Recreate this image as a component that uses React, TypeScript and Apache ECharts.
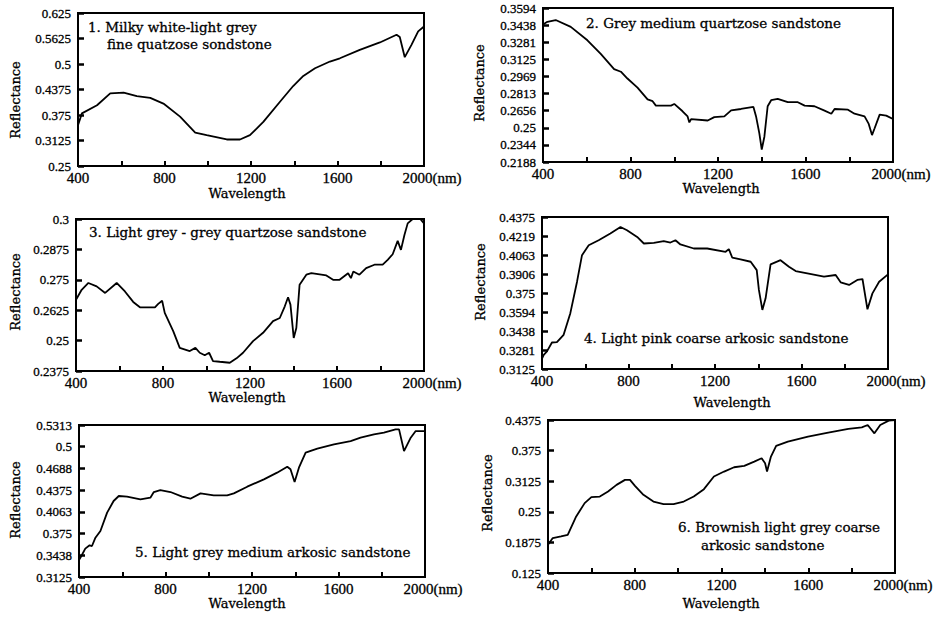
import React, { useEffect, useRef } from "react";
import * as echarts from "echarts";

// ---- tick labels ----
const X_TICKS = ["400", "800", "1200", "1600", "2000"];
const Y_TICKS_1 = ["0.25", "0.3125", "0.375", "0.4375", "0.5", "0.5625", "0.625"];
const Y_TICKS_2 = ["0.2188", "0.2344", "0.25", "0.2656", "0.2813", "0.2969", "0.3125", "0.3281", "0.3438", "0.3594"];
const Y_TICKS_3 = ["0.2375", "0.25", "0.2625", "0.275", "0.2875", "0.3"];
const Y_TICKS_4 = ["0.3125", "0.3281", "0.3438", "0.3594", "0.375", "0.3906", "0.4063", "0.4219", "0.4375"];
const Y_TICKS_5 = ["0.3125", "0.3438", "0.375", "0.4063", "0.4375", "0.4688", "0.5", "0.5313"];
const Y_TICKS_6 = ["0.125", "0.1875", "0.25", "0.3125", "0.375", "0.4375"];

// ---- titles ----
const TITLES = [
  ["1. Milky white-light grey", "fine quatzose sondstone"],
  ["2. Grey medium quartzose sandstone"],
  ["3. Light grey - grey quartzose sandstone"],
  ["4. Light pink coarse arkosic sandstone"],
  ["5. Light grey medium arkosic sandstone"],
  ["6. Brownish light grey coarse", "arkosic sandstone"],
];

// ---- series: wavelength (nm) and reflectance ----
const WL_1 = [400, 418, 488, 549, 611, 672, 734, 795, 872, 942, 995, 1088, 1149, 1195, 1257, 1334, 1395, 1442, 1496, 1565, 1611, 1703, 1796, 1873, 1888, 1911, 1942, 1973, 2000];
const R_1 = [0.35, 0.379, 0.399, 0.428, 0.43, 0.4215, 0.417, 0.403, 0.371, 0.332, 0.3255, 0.315, 0.315, 0.3255, 0.358, 0.4075, 0.446, 0.4707, 0.4896, 0.506, 0.514, 0.5347, 0.5528, 0.5717, 0.566, 0.5167, 0.547, 0.5799, 0.592];

const WL_2 = [400, 420, 458, 527, 603, 664, 725, 756, 786, 832, 878, 901, 916, 985, 1000, 1038, 1061, 1069, 1077, 1153, 1183, 1229, 1260, 1305, 1362, 1374, 1389, 1400, 1412, 1427, 1443, 1473, 1519, 1565, 1596, 1641, 1687, 1718, 1733, 1794, 1824, 1870, 1889, 1904, 1916, 1939, 1969, 2000];
const R_2 = [0.3444, 0.3468, 0.3484, 0.3422, 0.3299, 0.3175, 0.3036, 0.3012, 0.295, 0.2867, 0.2759, 0.2743, 0.2703, 0.2703, 0.2718, 0.2651, 0.2604, 0.2549, 0.258, 0.2567, 0.2598, 0.2604, 0.266, 0.2672, 0.2691, 0.2604, 0.245, 0.2302, 0.2419, 0.2697, 0.2752, 0.2765, 0.2734, 0.2734, 0.2703, 0.2697, 0.2657, 0.2629, 0.2672, 0.2666, 0.2629, 0.2604, 0.2536, 0.2434, 0.2496, 0.262, 0.2611, 0.258];

const WL_3 = [400, 426, 457, 495, 534, 587, 625, 663, 694, 763, 778, 796, 808, 847, 877, 923, 949, 969, 992, 1012, 1030, 1061, 1107, 1138, 1168, 1214, 1260, 1306, 1337, 1360, 1375, 1386, 1401, 1413, 1428, 1459, 1482, 1551, 1582, 1612, 1651, 1664, 1675, 1703, 1734, 1772, 1810, 1833, 1856, 1879, 1894, 1910, 1925, 1948, 1983, 2000];
const R_3 = [0.2668, 0.2709, 0.2737, 0.2723, 0.2696, 0.2737, 0.2702, 0.2659, 0.2637, 0.2637, 0.2651, 0.2664, 0.2614, 0.2539, 0.247, 0.2457, 0.247, 0.245, 0.244, 0.245, 0.2416, 0.2413, 0.2409, 0.2427, 0.245, 0.2498, 0.2532, 0.258, 0.2593, 0.2641, 0.2678, 0.2648, 0.2511, 0.2552, 0.273, 0.2771, 0.2777, 0.2768, 0.275, 0.275, 0.2777, 0.2757, 0.2784, 0.2771, 0.2798, 0.2812, 0.2812, 0.2832, 0.2855, 0.291, 0.2873, 0.2934, 0.2982, 0.3, 0.3, 0.2982];

const WL_4 = [400, 408, 423, 446, 469, 500, 531, 562, 585, 616, 662, 716, 763, 793, 840, 871, 917, 963, 994, 1017, 1040, 1102, 1164, 1249, 1264, 1280, 1318, 1365, 1393, 1403, 1419, 1434, 1457, 1503, 1542, 1573, 1627, 1704, 1758, 1781, 1820, 1858, 1882, 1905, 1928, 1959, 2000];
const R_4 = [0.321, 0.3242, 0.327, 0.3343, 0.3346, 0.3406, 0.3584, 0.3843, 0.4061, 0.4143, 0.4184, 0.4239, 0.4293, 0.4266, 0.4211, 0.4157, 0.4163, 0.4176, 0.4165, 0.4184, 0.4149, 0.4116, 0.4116, 0.4089, 0.4111, 0.404, 0.4026, 0.4007, 0.3938, 0.3775, 0.3611, 0.3706, 0.3985, 0.402, 0.3966, 0.393, 0.3911, 0.3884, 0.3898, 0.3838, 0.3816, 0.3857, 0.3865, 0.3616, 0.3747, 0.3843, 0.3903];

const WL_5 = [400, 411, 429, 449, 460, 476, 499, 530, 560, 584, 622, 684, 730, 746, 776, 823, 877, 915, 962, 1023, 1085, 1116, 1178, 1255, 1316, 1363, 1378, 1397, 1417, 1448, 1502, 1579, 1656, 1702, 1764, 1810, 1864, 1880, 1903, 1934, 1957, 2000];
const R_5 = [0.337, 0.3427, 0.3533, 0.3581, 0.3571, 0.3691, 0.3787, 0.4051, 0.4219, 0.4291, 0.4281, 0.4243, 0.4267, 0.4348, 0.4377, 0.4348, 0.4281, 0.4252, 0.4329, 0.43, 0.43, 0.4329, 0.4425, 0.4531, 0.4627, 0.4713, 0.4675, 0.4492, 0.4699, 0.4914, 0.4972, 0.5034, 0.5082, 0.513, 0.5178, 0.5202, 0.525, 0.525, 0.4938, 0.513, 0.5226, 0.5226];

const WL_6 = [400, 422, 460, 491, 530, 569, 600, 639, 677, 716, 755, 778, 801, 840, 886, 933, 979, 1026, 1072, 1119, 1165, 1212, 1258, 1305, 1351, 1385, 1401, 1410, 1428, 1452, 1506, 1599, 1692, 1785, 1847, 1874, 1905, 1932, 1971, 2000];
const R_6 = [0.1827, 0.1963, 0.1997, 0.2031, 0.2405, 0.2677, 0.2799, 0.2812, 0.2914, 0.305, 0.3152, 0.3152, 0.303, 0.2846, 0.271, 0.2656, 0.2656, 0.271, 0.2812, 0.2962, 0.322, 0.3322, 0.341, 0.3438, 0.3526, 0.3594, 0.3492, 0.3322, 0.3628, 0.3845, 0.3933, 0.4035, 0.4117, 0.4192, 0.4226, 0.4273, 0.4103, 0.4273, 0.4362, 0.4375];

const WLS = [WL_1, WL_2, WL_3, WL_4, WL_5, WL_6];
const RS = [R_1, R_2, R_3, R_4, R_5, R_6];
const YTICKS = [Y_TICKS_1, Y_TICKS_2, Y_TICKS_3, Y_TICKS_4, Y_TICKS_5, Y_TICKS_6];

// ---- layout (pixels) ----
const GRIDS = [
  { left: 78, top: 13, width: 346, height: 153 },
  { left: 543, top: 8, width: 350, height: 154 },
  { left: 76, top: 219, width: 348, height: 152 },
  { left: 542, top: 217, width: 346, height: 152 },
  { left: 79, top: 425, width: 346, height: 152 },
  { left: 548, top: 420, width: 347, height: 153 },
];
const TITLE_POS = [
  [[88, 27], [107, 44]],
  [[586, 23]],
  [[89, 232]],
  [[584, 338]],
  [[135, 552]],
  [[678, 527], [701, 545]],
];
const YNAME_POS = [[15, 100], [479, 83], [15, 292], [480, 282], [15, 500], [487, 493]];
const XNAME_POS = [[247, 193], [721, 188], [247, 397], [732, 402], [247, 603], [721, 603]];

const NUM_FONT = "'Liberation Serif', 'Times New Roman', serif";
const TXT_FONT = "'DejaVu Serif', serif";
const INK = "#000";

export default function App() {
  const ref = useRef<HTMLDivElement>(null);
  useEffect(() => {
    if (!ref.current) return;
    const chart = echarts.init(ref.current, null, { renderer: "svg" });
    const grid: any[] = [];
    const xAxis: any[] = [];
    const yAxis: any[] = [];
    const series: any[] = [];
    const graphic: any[] = [];
    for (let i = 0; i < 6; i++) {
      const g = GRIDS[i];
      grid.push({ ...g, show: true, borderColor: INK, borderWidth: 2, backgroundColor: "transparent" });
      xAxis.push({
        type: "value",
        gridIndex: i,
        min: 400,
        max: 2000,
        interval: 200,
        axisLine: { show: false },
        splitLine: { show: false },
        axisTick: { show: true, inside: true, length: 5, lineStyle: { color: INK, width: 2 } },
        axisLabel: {
          color: INK,
          fontFamily: NUM_FONT,
          fontSize: 15,
          margin: 4,
          textBorderColor: INK,
          textBorderWidth: 0.3,
          formatter: (v: number) => {
            const k = X_TICKS.indexOf(String(Math.round(v)));
            if (k < 0) return "";
            if (k === X_TICKS.length - 1) return "{s| }" + X_TICKS[k] + "(nm)";
            return X_TICKS[k];
          },
          rich: { s: { width: 16 } },
        },
      });
      const yl = YTICKS[i];
      const ymin = parseFloat(yl[0]);
      const ymax = parseFloat(yl[yl.length - 1]);
      const step = (ymax - ymin) / (yl.length - 1);
      yAxis.push({
        type: "value",
        gridIndex: i,
        min: ymin,
        max: ymax,
        interval: step,
        axisLine: { show: false },
        splitLine: { show: false },
        axisTick: { show: true, inside: true, length: 6, lineStyle: { color: INK, width: 2.5 } },
        axisLabel: {
          color: INK,
          fontFamily: NUM_FONT,
          fontSize: 13,
          margin: 7,
          textBorderColor: INK,
          textBorderWidth: 0.3,
          formatter: (v: number) => {
            const k = Math.round((v - ymin) / step);
            return yl[k] ?? "";
          },
        },
      });
      series.push({
        type: "line",
        xAxisIndex: i,
        yAxisIndex: i,
        showSymbol: false,
        symbol: "none",
        lineStyle: { color: INK, width: 1.8 },
        data: WLS[i].map((w, j) => [w, RS[i][j]]),
      });
      TITLES[i].forEach((t, j) => {
        graphic.push({
          type: "text",
          x: TITLE_POS[i][j][0],
          y: TITLE_POS[i][j][1],
          style: { text: t, fontFamily: TXT_FONT, fontSize: 13.5, fill: INK, stroke: INK, lineWidth: 0.3, verticalAlign: "middle", align: "left" },
        });
      });
      graphic.push({
        type: "text",
        x: YNAME_POS[i][0],
        y: YNAME_POS[i][1],
        rotation: Math.PI / 2,
        style: { text: "Reflectance", fontFamily: TXT_FONT, fontSize: 13, fill: INK, stroke: INK, lineWidth: 0.3, align: "center", verticalAlign: "middle" },
      });
      graphic.push({
        type: "text",
        x: XNAME_POS[i][0],
        y: XNAME_POS[i][1],
        style: { text: "Wavelength", fontFamily: TXT_FONT, fontSize: 13, fill: INK, stroke: INK, lineWidth: 0.3, align: "center", verticalAlign: "middle" },
      });
    }
    chart.setOption({
      animation: false,
      backgroundColor: "#fff",
      grid,
      xAxis,
      yAxis,
      series,
      graphic,
    });
    return () => chart.dispose();
  }, []);
  return <div ref={ref} style={{ position: "fixed", left: 0, top: 0, width: 948, height: 617 }} />;
}
